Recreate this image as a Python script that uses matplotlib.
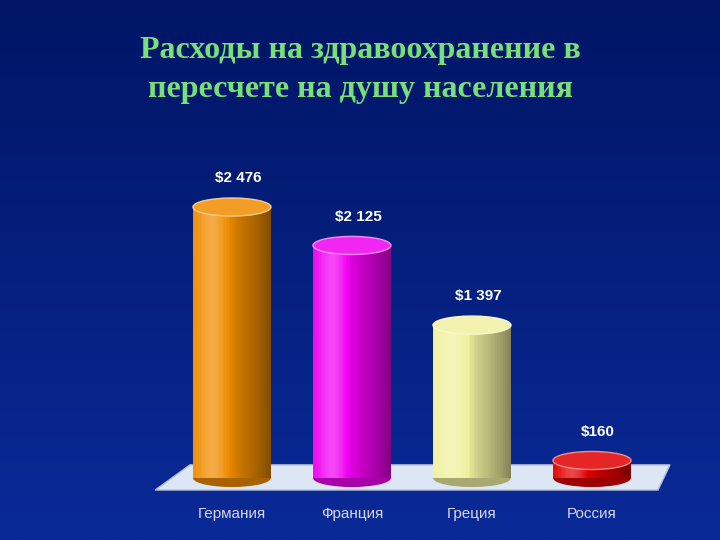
import matplotlib
matplotlib.use("Agg")
import matplotlib.pyplot as plt
from matplotlib.patches import Ellipse, Rectangle, Polygon
import matplotlib.colors as mcolors
import numpy as np

countries = ["Германия", "Франция", "Греция", "Россия"]
values = [2476, 2125, 1397, 160]
labels = ["$2 476", "$2 125", "$1 397", "$160"]
colors = ["#f08c00", "#f000f0", "#f0f0a0", "#e00000"]

fig = plt.figure(figsize=(7.2, 5.4), dpi=100)

# background gradient
bg = fig.add_axes([0, 0, 1, 1], zorder=-10)
grad = np.linspace(0, 1, 256).reshape(-1, 1)
cmap = mcolors.LinearSegmentedColormap.from_list("bg", ["#001565", "#0a2a98"])
bg.imshow(grad, aspect="auto", cmap=cmap, extent=[0, 1, 0, 1], origin="upper")
bg.axis("off")

fig.text(0.5, 0.87, "Расходы на здравоохранение в\nпересчете на душу населения",
         ha="center", va="center", color="#78e078", fontsize=23, fontweight="bold",
         family="Liberation Serif", linespacing=1.45)

ax = fig.add_axes([150 / 720, 1 - 478 / 540, 520 / 720, 0.608])
ax.set_xlim(-0.683, 3.65)
ax.set_ylim(0, 3000)
ax.axis("off")

# floor
floor = Polygon([(-0.64, -110), (3.55, -110), (3.65, 120), (-0.35, 120)],
                closed=True, transform=ax.transData, clip_on=False,
                facecolor="#dde6f5", edgecolor="#b0bcd8", zorder=1)
ax.add_patch(floor)

w = 0.65
eh = 165

def shade(c, f):
    r = np.array(mcolors.to_rgb(c))
    if f >= 0:
        return tuple(r + (1 - r) * f)
    return tuple(r * (1 + f))

for i, (v, c) in enumerate(zip(values, colors)):
    left = i - w / 2
    n = 50
    for k in range(n):
        t = k / (n - 1)
        # smooth highlight near the left third, darker toward the right
        f = 0.3 * np.exp(-((t - 0.25) / 0.18) ** 2) - 0.45 * t ** 2
        ax.add_patch(Rectangle((left + w * k / n, 0), w / n + 0.002, v,
                               facecolor=shade(c, f), edgecolor="none", zorder=3, clip_on=False))
    ax.add_patch(Ellipse((i, 0), w, eh, facecolor=shade(c, -0.3), edgecolor="none", zorder=2, clip_on=False))
    ax.add_patch(Ellipse((i, v), w, eh, facecolor=shade(c, 0.15), edgecolor=shade(c, 0.55),
                         lw=1, zorder=4, clip_on=False))
    ax.text(i + 0.05, v + 200, labels[i], ha="center", va="bottom", color="white",
            fontsize=11, fontweight="bold", family="Liberation Sans")
    ax.text(i, -330, countries[i], ha="center", va="center", color="#d8d8e8",
            fontsize=11, family="Liberation Sans")

fig.savefig("out.png", dpi=100)
